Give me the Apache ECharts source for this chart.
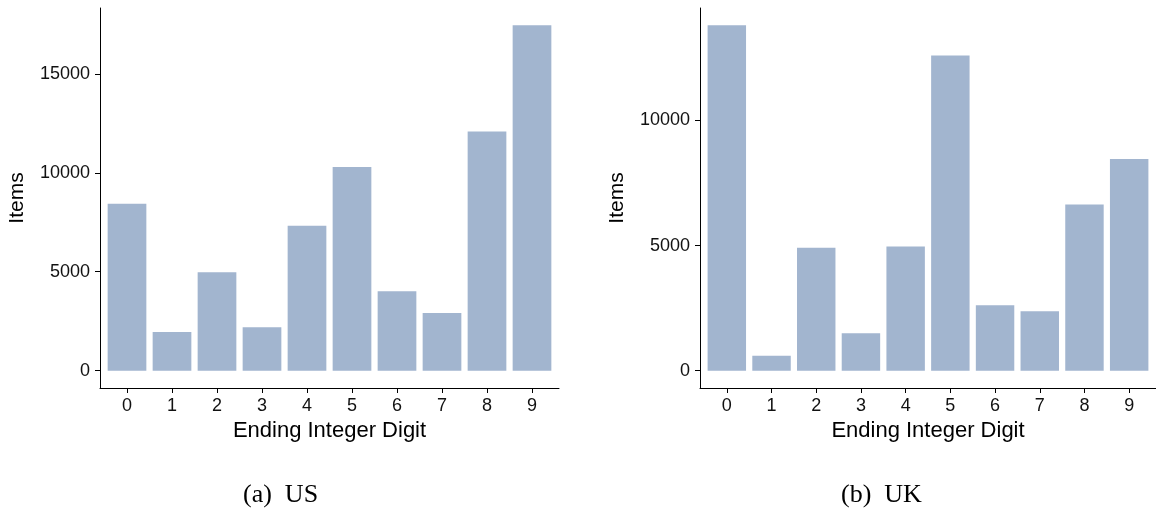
<!DOCTYPE html>
<html>
<head>
<meta charset="utf-8">
<title>Ending Integer Digit — US / UK</title>
<script src="https://cdn.jsdelivr.net/npm/echarts@6/dist/echarts.min.js"></script>
<style>
  html, body { margin: 0; padding: 0; background: #fff; }
  #chart { width: 1156px; height: 517px; }
</style>
</head>
<body>
<div id="chart"></div>
<script>
// Ending integer digit of item prices and how many items end in each
const digits = ['0', '1', '2', '3', '4', '5', '6', '7', '8', '9'];
const usItems = [8430, 1950, 4970, 2200, 7320, 10290, 4020, 2910, 12080, 17450];
const ukItems = [13800, 600, 4910, 1500, 4960, 12590, 2620, 2380, 6640, 8460];
const usTicks = [0, 5000, 10000, 15000];
const ukTicks = [0, 5000, 10000];
const captions = ['(a)  US', '(b)  UK'];

const BAR = '#a2b5cf';
const INK = '#111';
const SANS = '"Liberation Sans", Arial, Helvetica, sans-serif';
const SERIF = '"Liberation Serif", "DejaVu Serif", serif';

const digitIndex = digits.map((d, i) => i);

function xAxisFor(gridIndex) {
  return {
    type: 'value',
    gridIndex,
    min: -0.6,
    max: digits.length - 1 + 0.6,
    splitLine: { show: false },
    axisLine: { show: true, onZero: false, lineStyle: { color: '#000', width: 1 } },
    axisTick: { show: true, customValues: digitIndex, length: 5, lineStyle: { color: '#000', width: 1 } },
    axisLabel: {
      customValues: digitIndex,
      formatter: v => digits[Math.round(v)],
      margin: 9,
      color: INK,
      fontFamily: SANS,
      fontSize: 18
    },
    name: 'Ending Integer Digit',
    nameLocation: 'middle',
    nameGap: 32,
    nameTextStyle: { color: '#000', fontFamily: SANS, fontSize: 22 }
  };
}

function yAxisFor(gridIndex, values, ticks) {
  const top = Math.max(...values);
  return {
    type: 'value',
    gridIndex,
    min: -0.05 * top,
    max: 1.05 * top,
    splitLine: { show: false },
    axisLine: { show: true, onZero: false, lineStyle: { color: '#000', width: 1 } },
    axisTick: { show: true, customValues: ticks, length: 5, lineStyle: { color: '#000', width: 1 } },
    axisLabel: {
      customValues: ticks,
      formatter: v => String(Math.round(v)),
      margin: 10,
      color: INK,
      fontFamily: SANS,
      fontSize: 18
    },
    name: 'Items',
    nameLocation: 'middle',
    nameGap: 72,
    nameRotate: 90,
    nameTextStyle: { color: '#000', fontFamily: SANS, fontSize: 21 }
  };
}

function barSeries(index, values) {
  return {
    type: 'bar',
    xAxisIndex: index,
    yAxisIndex: index,
    barWidth: '86%',
    itemStyle: { color: BAR },
    silent: true,
    data: values.map((v, i) => [i, v])
  };
}

const chart = echarts.init(document.getElementById('chart'), null, { renderer: 'canvas' });
chart.setOption({
  animation: false,
  backgroundColor: '#fff',
  grid: [
    { left: 100, top: 8, width: 459, height: 380 },
    { left: 700, top: 8, width: 459, height: 380 }
  ],
  xAxis: [xAxisFor(0), xAxisFor(1)],
  yAxis: [yAxisFor(0, usItems, usTicks), yAxisFor(1, ukItems, ukTicks)],
  series: [barSeries(0, usItems), barSeries(1, ukItems)],
  graphic: [
    {
      type: 'text', left: 281 - 38, top: 482,
      style: { text: captions[0], fill: '#000', font: '26px ' + SERIF }
    },
    {
      type: 'text', left: 882 - 41, top: 482,
      style: { text: captions[1], fill: '#000', font: '26px ' + SERIF }
    }
  ]
});
</script>
</body>
</html>
